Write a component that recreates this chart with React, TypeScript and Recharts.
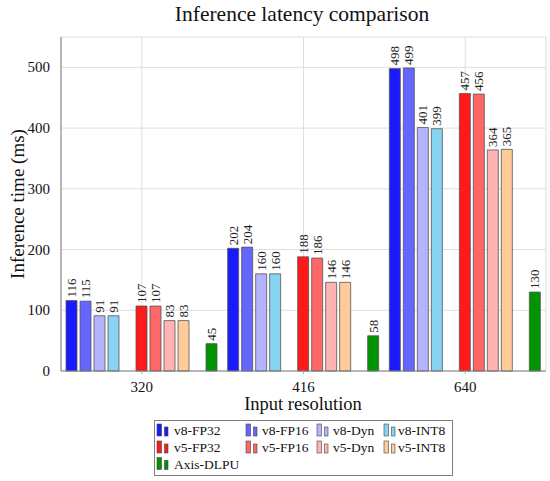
import React from "react";
import { BarChart, Bar, XAxis, YAxis, CartesianGrid, LabelList } from "recharts";

if (typeof document !== "undefined") document.body.style.margin = "0";

const categories = ["320", "416", "640"];
const v8FP32 = [116, 202, 498];
const v8FP16 = [115, 204, 499];
const v8Dyn = [91, 160, 401];
const v8INT8 = [91, 160, 399];
const v5FP32 = [107, 188, 457];
const v5FP16 = [107, 186, 456];
const v5Dyn = [83, 146, 364];
const v5INT8 = [83, 146, 365];
const axisDLPU = [45, 58, 130];
const yTicks = [0, 100, 200, 300, 400, 500];

const series = [
  { key: "v8FP32", name: "v8-FP32", values: v8FP32, color: "#1a1aff" },
  { key: "v8FP16", name: "v8-FP16", values: v8FP16, color: "#6666ff" },
  { key: "v8Dyn", name: "v8-Dyn", values: v8Dyn, color: "#b3b3ff" },
  { key: "v8INT8", name: "v8-INT8", values: v8INT8, color: "#87d3f2" },
  { key: "gap1", name: "", values: null as number[] | null, color: "none" },
  { key: "v5FP32", name: "v5-FP32", values: v5FP32, color: "#ff1a1a" },
  { key: "v5FP16", name: "v5-FP16", values: v5FP16, color: "#ff6666" },
  { key: "v5Dyn", name: "v5-Dyn", values: v5Dyn, color: "#ffb3b3" },
  { key: "v5INT8", name: "v5-INT8", values: v5INT8, color: "#ffcc99" },
  { key: "gap2", name: "", values: null as number[] | null, color: "none" },
  { key: "axisDLPU", name: "Axis-DLPU", values: axisDLPU, color: "#009400" },
];

const data = categories.map((c, i) => {
  const row: Record<string, any> = { res: c };
  series.forEach((s) => {
    if (s.values) row[s.key] = s.values[i];
  });
  return row;
});

const FONT = "Liberation Serif";
const BORDER = "#7f7f7f";

const RotLabel = (props: any) => {
  const { x, y, width, value } = props;
  if (value == null) return null;
  const cx = x + width / 2;
  const cy = y - 3;
  return (
    <text
      x={cx}
      y={cy}
      transform={`rotate(-90 ${cx} ${cy})`}
      textAnchor="start"
      dominantBaseline="central"
      fontSize={13}
      style={{ fontFamily: FONT }}
      fill="#222"
    >
      {value}
    </text>
  );
};

const YTick = (props: any) => {
  const { x, y, payload } = props;
  return (
    <text x={x - 3} y={y} textAnchor="end" dominantBaseline="central" fontSize={15} style={{ fontFamily: FONT }} fill="#111">
      {payload.value}
    </text>
  );
};

const XTick = (props: any) => {
  const { x, y, payload } = props;
  return (
    <text x={x} y={y + 11} textAnchor="middle" dominantBaseline="central" fontSize={15} style={{ fontFamily: FONT }} fill="#111">
      {payload.value}
    </text>
  );
};

const legendRows = [
  ["v8FP32", "v8FP16", "v8Dyn", "v8INT8"],
  ["v5FP32", "v5FP16", "v5Dyn", "v5INT8"],
  ["axisDLPU"],
];
const colIcon = [3, 92, 163, 230];
const colText = [20, 108, 179, 244];
const rowY = [10, 27, 43.5];

const LegendBox = () => (
  <svg width={300} height={56} style={{ position: "absolute", left: 154, top: 420 }}>
    <rect x={0.5} y={0.5} width={298} height={55} fill="#fff" stroke={BORDER} strokeWidth={1} />
    {legendRows.map((row, ri) =>
      row.map((k, ci) => {
        const s = series.find((q) => q.key === k)!;
        const ix = colIcon[ci];
        const iy = rowY[ri];
        return (
          <g key={k}>
            <rect x={ix} y={iy - 6} width={4.5} height={12} fill={s.color} stroke="#444" strokeWidth={0.6} />
            <rect x={ix + 7.5} y={iy - 3} width={3.5} height={9} fill={s.color} stroke="#444" strokeWidth={0.6} />
            <text x={colText[ci]} y={iy + 0.5} dominantBaseline="central" fontSize={13.5} style={{ fontFamily: FONT }} fill="#111">
              {s.name}
            </text>
          </g>
        );
      })
    )}
  </svg>
);

export default function App() {
  return (
    <div style={{ position: "relative", width: 550, height: 481, background: "#fff" }}>
      <svg width={550} height={481} style={{ position: "absolute", left: 0, top: 0 }}>
        <text x={302} y={14} textAnchor="middle" dominantBaseline="central" fontSize={21.5} style={{ fontFamily: FONT }} fill="#111">
          Inference latency comparison
        </text>
        <text
          x={17}
          y={204}
          transform="rotate(-90 17 204)"
          textAnchor="middle"
          dominantBaseline="central"
          fontSize={19}
          style={{ fontFamily: FONT }}
          fill="#111"
        >
          Inference time (ms)
        </text>
        <text x={303} y={404} textAnchor="middle" dominantBaseline="central" fontSize={18.5} style={{ fontFamily: FONT }} fill="#111">
          Input resolution
        </text>
      </svg>
      <div style={{ position: "absolute", left: 0, top: 0 }}>
        <BarChart
          width={550}
          height={481}
          data={data}
          margin={{ top: 37, right: 4, left: 0, bottom: 0 }}
          barSize={11}
          barGap={3}
        >
          <CartesianGrid stroke="#dedede" strokeWidth={1} />
          <XAxis
            dataKey="res"
            height={110}
            axisLine={{ stroke: BORDER }}
            tickLine={{ stroke: "#aaa" }}
            tickSize={3}
            tick={<XTick />}
          />
          <XAxis xAxisId="top" dataKey="res" orientation="top" height={0} tick={false} tickLine={false} axisLine={{ stroke: BORDER }} />
          <YAxis
            width={61}
            domain={[0, 550]}
            ticks={yTicks}
            axisLine={{ stroke: BORDER }}
            tickLine={false}
            tick={<YTick />}
          />
          <YAxis yAxisId="right" orientation="right" width={0} tick={false} tickLine={false} axisLine={{ stroke: BORDER }} domain={[0, 550]} />
          {series.map((s) => (
            <Bar
              key={s.key}
              dataKey={s.key}
              name={s.name}
              fill={s.color}
              stroke={s.values ? "#555" : "none"}
              strokeWidth={0.8}
              isAnimationActive={false}
            >
              {s.values ? <LabelList dataKey={s.key} content={RotLabel} /> : null}
            </Bar>
          ))}
        </BarChart>
      </div>
      <LegendBox />
    </div>
  );
}
